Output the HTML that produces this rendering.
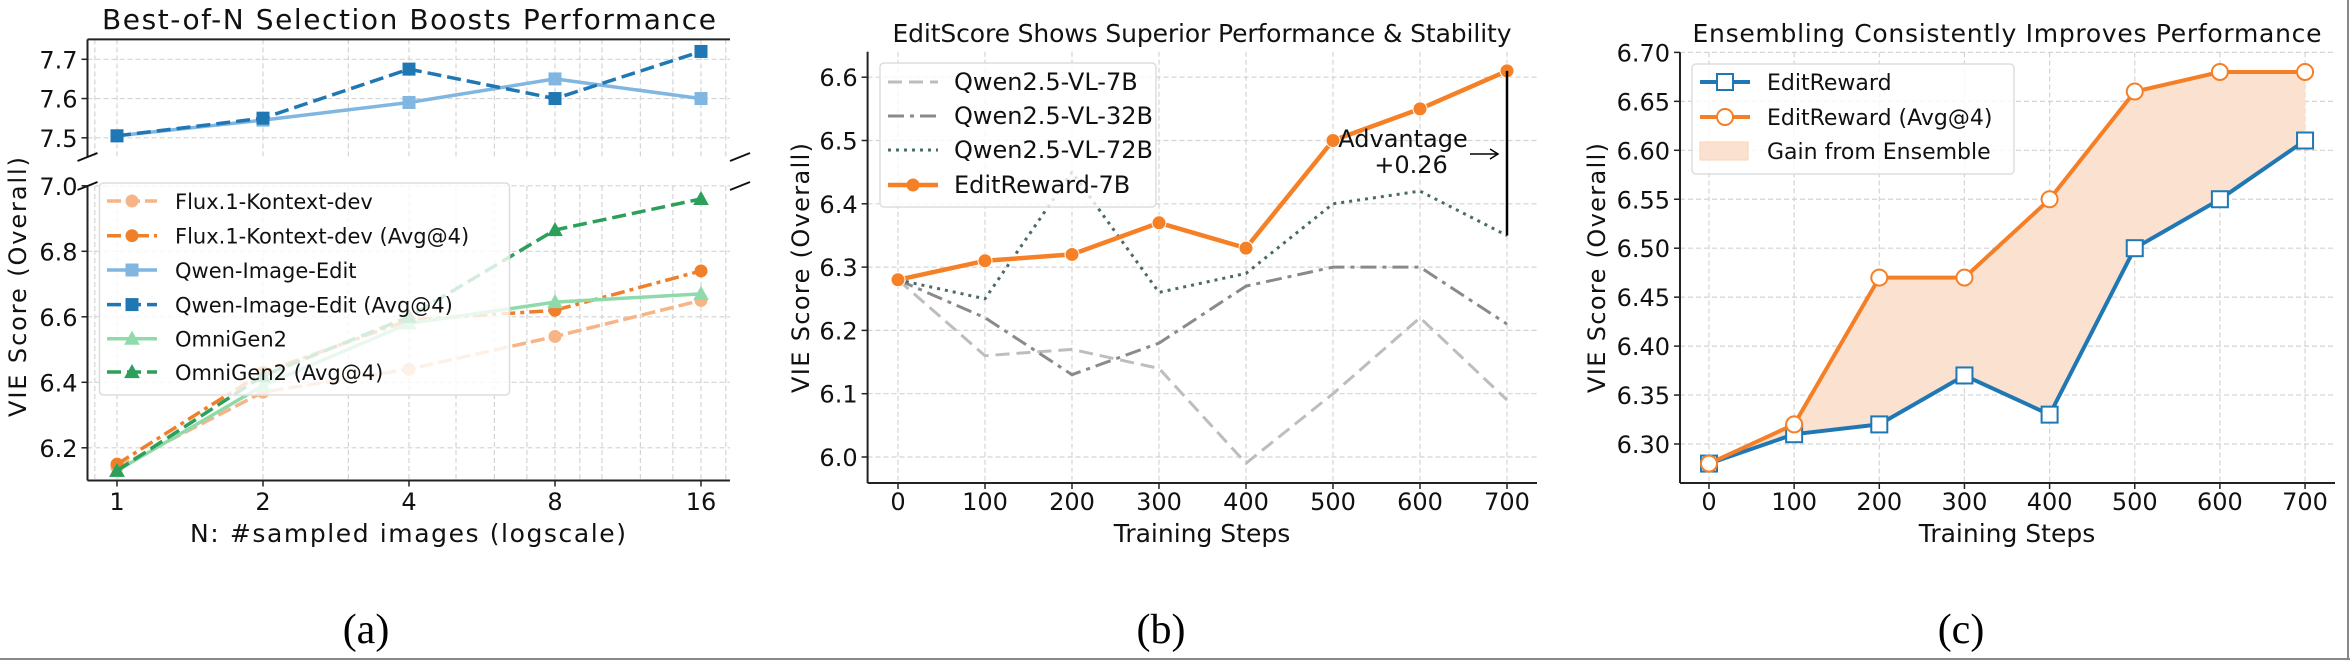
<!DOCTYPE html>
<html><head><meta charset="utf-8"><style>
html,body{margin:0;padding:0;background:#fff;}
svg{display:block;font-family:"DejaVu Sans","Liberation Sans",sans-serif;}
</style></head><body>
<svg id="fig" width="2350" height="660" viewBox="0 0 2350 660" xmlns="http://www.w3.org/2000/svg">
<line x1="2348" y1="0" x2="2348" y2="660" stroke="#888" stroke-width="2"/>
<line x1="0" y1="659" x2="2350" y2="659" stroke="#888" stroke-width="2"/>
<text x="366" y="643" font-family="Liberation Serif,serif" font-size="42" text-anchor="middle">(a)</text>
<text x="1161" y="643" font-family="Liberation Serif,serif" font-size="42" text-anchor="middle">(b)</text>
<text x="1961" y="643" font-family="Liberation Serif,serif" font-size="42" text-anchor="middle">(c)</text>
</svg>
<script>
// ---- Panel (a) data ----
const aNs = [1, 2, 4, 8, 16];
const aTickLabels = ["1", "2", "4", "8", "16"];
const aTopTicks = [7.5, 7.6, 7.7];
const aBotTicks = [6.2, 6.4, 6.6, 6.8, 7.0];
const fluxVals = [6.14, 6.37, 6.44, 6.54, 6.65];
const fluxAvgVals = [6.15, 6.43, 6.59, 6.62, 6.74];
const qwenVals = [7.505, 7.545, 7.59, 7.65, 7.60];
const qwenAvgVals = [7.505, 7.55, 7.675, 7.60, 7.72];
const omniVals = [6.13, 6.39, 6.58, 6.645, 6.67];
const omniAvgVals = [6.13, 6.42, 6.60, 6.865, 6.96];
// ---- Panel (b) data ----
const steps = [0, 100, 200, 300, 400, 500, 600, 700];
const bTicks = [6.0, 6.1, 6.2, 6.3, 6.4, 6.5, 6.6];
const q7Vals = [6.28, 6.16, 6.17, 6.14, 5.99, 6.10, 6.22, 6.09];
const q32Vals = [6.28, 6.22, 6.13, 6.18, 6.27, 6.30, 6.30, 6.21];
const q72Vals = [6.28, 6.25, 6.45, 6.26, 6.29, 6.40, 6.42, 6.35];
const erVals = [6.28, 6.31, 6.32, 6.37, 6.33, 6.50, 6.55, 6.61];
// ---- Panel (c) data ----
const cTicks = [6.30, 6.35, 6.40, 6.45, 6.50, 6.55, 6.60, 6.65, 6.70];
const cErVals = [6.28, 6.31, 6.32, 6.37, 6.33, 6.50, 6.55, 6.61];
const cAvgVals = [6.28, 6.32, 6.47, 6.47, 6.55, 6.66, 6.68, 6.68];

const NS = "http://www.w3.org/2000/svg";
const fig = document.getElementById('fig');
function mk(tag, attrs, parent) {
  const e = document.createElementNS(NS, tag);
  for (const k in attrs) e.setAttribute(k, attrs[k]);
  (parent || fig).appendChild(e);
  return e;
}
function txt(x, y, s, size, anchor, parent) {
  const t = mk('text', {x: x, y: y, 'font-size': size, 'text-anchor': anchor || 'middle', fill: '#111'}, parent);
  t.textContent = s;
  return t;
}
const GRID = {stroke: '#d4d4d4', 'stroke-width': 1.2, 'stroke-dasharray': '5 3'};
function gridLine(x1, y1, x2, y2, g) {
  const l = mk('line', Object.assign({x1: x1, y1: y1, x2: x2, y2: y2}, GRID), g);
  
  
}
function poly(pts, style, g) {
  return mk('polyline', Object.assign({points: pts.map(p => p[0].toFixed(1) + ',' + p[1].toFixed(1)).join(' '), fill: 'none', 'stroke-linejoin': 'round'}, style), g);
}
function marker(kind, x, y, size, fill, stroke, sw, g) {
  let m;
  if (kind === 'o') m = mk('circle', {cx: x, cy: y, r: size, fill: fill, stroke: stroke, 'stroke-width': sw}, g);
  else if (kind === 's') m = mk('rect', {x: x - size, y: y - size, width: 2 * size, height: 2 * size, fill: fill, stroke: stroke, 'stroke-width': sw}, g);
  else m = mk('polygon', {points: `${x},${y - size} ${x - size},${y + size * 0.8} ${x + size},${y + size * 0.8}`, fill: fill, stroke: stroke, 'stroke-width': sw}, g);
  return m;
}

// ================= Panel (a) =================
const ga = mk('g', {});


const aL = 87.5, aR = 730;
const ax = n => 117 + Math.log2(n) * 146;
const ayTop = v => 137.8 - (v - 7.5) / 0.1 * 39.25;
const ayBot = v => 447.8 - (v - 6.2) / 0.2 * 65.5;
const aTopY0 = 39.4, aTopY1 = 157, aBotY0 = 186, aBotY1 = 480.5;
[0.9, 3, 5, 6, 7, 9, 10, 12, 14, 18].forEach(n => {
  const x = ax(n);
  if (x > aL && x < aR) { gridLine(x, aTopY0, x, aTopY1, ga); gridLine(x, aBotY0, x, aBotY1, ga); }
});
aNs.forEach(n => { gridLine(ax(n), aTopY0, ax(n), aTopY1, ga); gridLine(ax(n), aBotY0, ax(n), aBotY1, ga); });
aTopTicks.forEach(v => gridLine(aL, ayTop(v), aR, ayTop(v), ga));
aBotTicks.forEach(v => gridLine(aL, ayBot(v), aR, ayBot(v), ga));
mk('line', {x1: aL, y1: aTopY0, x2: aR, y2: aTopY0, stroke: '#222', 'stroke-width': 2}, ga);
mk('line', {x1: aL, y1: aTopY0, x2: aL, y2: aTopY1, stroke: '#222', 'stroke-width': 2}, ga);
mk('line', {x1: aL, y1: aBotY0, x2: aL, y2: aBotY1, stroke: '#222', 'stroke-width': 2}, ga);
mk('line', {x1: aL, y1: aBotY1, x2: aR, y2: aBotY1, stroke: '#222', 'stroke-width': 2}, ga);
[[aL, aTopY1], [aL, aBotY0], [aR + 10, aTopY1], [aR + 10, aBotY0]].forEach(p => {
  mk('line', {x1: p[0] - 10, y1: p[1] + 4, x2: p[0] + 10, y2: p[1] - 4, stroke: '#111', 'stroke-width': 2}, ga);
});
aTopTicks.forEach(v => { mk('line', {x1: aL - 6, y1: ayTop(v), x2: aL, y2: ayTop(v), stroke: '#222', 'stroke-width': 1.5}, ga); txt(aL - 10, ayTop(v) + 9, v.toFixed(1), 24, 'end', ga); });
aBotTicks.forEach(v => { mk('line', {x1: aL - 6, y1: ayBot(v), x2: aL, y2: ayBot(v), stroke: '#222', 'stroke-width': 1.5}, ga); txt(aL - 10, ayBot(v) + 9, v.toFixed(1), 24, 'end', ga); });
aNs.forEach((n, i) => { mk('line', {x1: ax(n), y1: aBotY1, x2: ax(n), y2: aBotY1 + 6, stroke: '#222', 'stroke-width': 1.5}, ga); txt(ax(n), 510, aTickLabels[i], 24, 'middle', ga); });
const aTitle = txt(409, 29, 'Best-of-N Selection Boosts Performance', 28, 'middle', ga);


aTitle.setAttribute('textLength', '614');
const aXl = txt(408, 542, 'N: #sampled images (logscale)', 25, 'middle', ga);


aXl.setAttribute('textLength', '436');
const aYl = txt(0, 0, 'VIE Score (Overall)', 24, 'middle', ga);
aYl.setAttribute('transform', 'translate(26,287) rotate(-90)');


aYl.setAttribute('textLength', '260');
const aSeries = [
  {name: 'Flux.1-Kontext-dev', vals: fluxVals, top: false, color: '#f6b487', dash: '14 5', mk: 'o', ms: 6},
  {name: 'Flux.1-Kontext-dev (Avg@4)', vals: fluxAvgVals, top: false, color: '#f07f2a', dash: '14 5 4 5', mk: 'o', ms: 6},
  {name: 'Qwen-Image-Edit', vals: qwenVals, top: true, color: '#80b6e0', dash: '', mk: 's', ms: 6},
  {name: 'Qwen-Image-Edit (Avg@4)', vals: qwenAvgVals, top: true, color: '#1f77b4', dash: '14 6', mk: 's', ms: 6},
  {name: 'OmniGen2', vals: omniVals, top: false, color: '#8fdaaa', dash: '', mk: '^', ms: 7},
  {name: 'OmniGen2 (Avg@4)', vals: omniAvgVals, top: false, color: '#2ca05a', dash: '14 6', mk: '^', ms: 7}
];
aSeries.forEach((s, si) => {
  const g = mk('g', {}, ga);
  
  
  const yf = s.top ? ayTop : ayBot;
  const pts = s.vals.map((v, i) => [ax(aNs[i]), yf(v)]);
  const st = {stroke: s.color, 'stroke-width': 3.5};
  if (s.dash) st['stroke-dasharray'] = s.dash;
  poly(pts, st, g);
  pts.forEach(p => {
    const m = marker(s.mk, p[0], p[1], s.ms, s.color, s.color, 1, g);
    
    
  });
});
const la = mk('g', {}, ga);


mk('rect', {x: 99.5, y: 183, width: 410, height: 212, rx: 4, fill: 'rgba(255,255,255,0.8)', stroke: '#ddd', 'stroke-width': 1.5}, la);
const aRows = [201, 235.7, 270, 304.6, 338.7, 372];
aSeries.forEach((s, i) => {
  const y = aRows[i];
  const st = {stroke: s.color, 'stroke-width': 3.5};
  if (s.dash) st['stroke-dasharray'] = s.dash;
  poly([[107, y], [157, y]], st, la);
  marker(s.mk, 132, y, s.ms, s.color, s.color, 1, la);
  const t = txt(175, y + 8, s.name, 21, 'start', la);
  
  
});

// ================= Panel (b) =================
const gb = mk('g', {});


const bL = 867.6, bR = 1537, bT = 51.7, bB = 483;
const bx = s => 898 + s / 100 * 87;
const by = v => 457 - (v - 6.0) / 0.1 * 63.3;
steps.forEach(s => gridLine(bx(s), bT, bx(s), bB, gb));
bTicks.forEach(v => gridLine(bL, by(v), bR, by(v), gb));
mk('line', {x1: bL, y1: bT, x2: bL, y2: bB, stroke: '#222', 'stroke-width': 2}, gb);
mk('line', {x1: bL, y1: bB, x2: bR, y2: bB, stroke: '#222', 'stroke-width': 2}, gb);
bTicks.forEach(v => { mk('line', {x1: bL - 6, y1: by(v), x2: bL, y2: by(v), stroke: '#222', 'stroke-width': 1.5}, gb); txt(bL - 10, by(v) + 9, v.toFixed(1), 24, 'end', gb); });
steps.forEach(s => { mk('line', {x1: bx(s), y1: bB, x2: bx(s), y2: bB + 6, stroke: '#222', 'stroke-width': 1.5}, gb); txt(bx(s), 510, String(s), 24, 'middle', gb); });
const bTitle = txt(1202, 42, 'EditScore Shows Superior Performance & Stability', 25, 'middle', gb);
bTitle.setAttribute('textLength', '619');


const bXl = txt(1202, 542, 'Training Steps', 25, 'middle', gb);


const bYl = txt(0, 0, 'VIE Score (Overall)', 24, 'middle', gb);
bYl.setAttribute('transform', 'translate(809,268) rotate(-90)');
bYl.setAttribute('textLength', '250');


const bSeries = [
  {name: 'Qwen2.5-VL-7B', vals: q7Vals, color: '#bdbdbd', dash: '14 7', w: 3},
  {name: 'Qwen2.5-VL-32B', vals: q32Vals, color: '#8a8a8a', dash: '16 6 4 6', w: 3},
  {name: 'Qwen2.5-VL-72B', vals: q72Vals, color: '#4a6a6a', dash: '3 5', w: 3},
  {name: 'EditReward-7B', vals: erVals, color: '#f58025', dash: '', w: 4.5, mk: true}
];
bSeries.forEach((s, si) => {
  const g = mk('g', {}, gb);
  
  
  const pts = s.vals.map((v, i) => [bx(steps[i]), by(v)]);
  const st = {stroke: s.color, 'stroke-width': s.w};
  if (s.dash) st['stroke-dasharray'] = s.dash;
  poly(pts, st, g);
  if (s.mk) pts.forEach(p => {
    const m = marker('o', p[0], p[1], 7, s.color, '#fff', 1, g);
    
    
  });
});
const lastI = steps.length - 1;
const ann = mk('line', {x1: bx(steps[lastI]), y1: by(erVals[lastI]), x2: bx(steps[lastI]), y2: by(q72Vals[lastI]), stroke: '#000', 'stroke-width': 2.5}, gb);


const adv = (erVals[lastI] - q72Vals[lastI]).toFixed(2);
const at1 = txt(1403, 147, 'Advantage', 24, 'middle', gb);


const at2 = txt(1411, 173, '+' + adv, 24, 'middle', gb);


mk('line', {x1: 1470, y1: 154, x2: 1498, y2: 154, stroke: '#000', 'stroke-width': 1.5}, gb);
mk('polyline', {points: '1490,149 1498,154 1490,159', fill: 'none', stroke: '#000', 'stroke-width': 1.5}, gb);
const lb = mk('g', {}, gb);


mk('rect', {x: 880, y: 63, width: 276, height: 144, rx: 4, fill: 'rgba(255,255,255,0.8)', stroke: '#ddd', 'stroke-width': 1.5}, lb);
const bRows = [82, 116, 150, 185];
bSeries.forEach((s, i) => {
  const y = bRows[i];
  const st = {stroke: s.color, 'stroke-width': s.w};
  if (s.dash) st['stroke-dasharray'] = s.dash;
  poly([[888, y], [938, y]], st, lb);
  if (s.mk) marker('o', 913, y, 6, s.color, s.color, 1, lb);
  const t = txt(954, y + 8, s.name, 24, 'start', lb);
  
  
});

// ================= Panel (c) =================
const gc = mk('g', {});


const cL = 1680, cR = 2335, cT = 52.4, cB = 483;
const cx = s => 1709 + s / 100 * 85.15;
const cy = v => 444 - (v - 6.30) / 0.05 * 48.95;
steps.forEach(s => gridLine(cx(s), cT, cx(s), cB, gc));
cTicks.forEach(v => gridLine(cL, cy(v), cR, cy(v), gc));
mk('line', {x1: cL, y1: cT, x2: cL, y2: cB, stroke: '#222', 'stroke-width': 2}, gc);
mk('line', {x1: cL, y1: cB, x2: cR, y2: cB, stroke: '#222', 'stroke-width': 2}, gc);
cTicks.forEach(v => { mk('line', {x1: cL - 6, y1: cy(v), x2: cL, y2: cy(v), stroke: '#222', 'stroke-width': 1.5}, gc); txt(cL - 10, cy(v) + 9, v.toFixed(2), 24, 'end', gc); });
steps.forEach(s => { mk('line', {x1: cx(s), y1: cB, x2: cx(s), y2: cB + 6, stroke: '#222', 'stroke-width': 1.5}, gc); txt(cx(s), 510, String(s), 24, 'middle', gc); });
const cTitle = txt(2007, 42, 'Ensembling Consistently Improves Performance', 25, 'middle', gc);
cTitle.setAttribute('textLength', '629');


const cXl = txt(2007, 542, 'Training Steps', 25, 'middle', gc);


const cYl = txt(0, 0, 'VIE Score (Overall)', 24, 'middle', gc);
cYl.setAttribute('transform', 'translate(1605,268) rotate(-90)');
cYl.setAttribute('textLength', '250');


const upper = cAvgVals.map((v, i) => [cx(steps[i]), cy(v)]);
const lower = cErVals.map((v, i) => [cx(steps[i]), cy(v)]);
const area = mk('polygon', {points: upper.concat(lower.slice().reverse()).map(p => p[0].toFixed(1) + ',' + p[1].toFixed(1)).join(' '), fill: '#fbe1cf', stroke: 'none'}, gc);


const cs1 = mk('g', {}, gc);


poly(lower, {stroke: '#1f77b4', 'stroke-width': 4}, cs1);
lower.forEach(p => {
  const m = marker('s', p[0], p[1], 8, '#fff', '#1f77b4', 2, cs1);
  
  
});
const cs2 = mk('g', {}, gc);


poly(upper, {stroke: '#f57f26', 'stroke-width': 4}, cs2);
upper.forEach(p => {
  const m = marker('o', p[0], p[1], 8, '#fff', '#f57f26', 2, cs2);
  
  
});
const lc = mk('g', {}, gc);


mk('rect', {x: 1692, y: 64, width: 322, height: 110, rx: 4, fill: 'rgba(255,255,255,0.8)', stroke: '#ddd', 'stroke-width': 1.5}, lc);
poly([[1700, 82], [1750, 82]], {stroke: '#1f77b4', 'stroke-width': 4}, lc);
marker('s', 1725, 82, 8, '#fff', '#1f77b4', 2, lc);
poly([[1700, 117], [1750, 117]], {stroke: '#f57f26', 'stroke-width': 4}, lc);
marker('o', 1725, 117, 8, '#fff', '#f57f26', 2, lc);
mk('rect', {x: 1700, y: 142, width: 48, height: 18, fill: '#fbe1cf', stroke: '#f9d2b5'}, lc);
[['EditReward', 82], ['EditReward (Avg@4)', 117], ['Gain from Ensemble', 151]].forEach(r => {
  const t = txt(1767, r[1] + 8, r[0], 22, 'start', lc);
  
  
});
</script>
</body></html>
